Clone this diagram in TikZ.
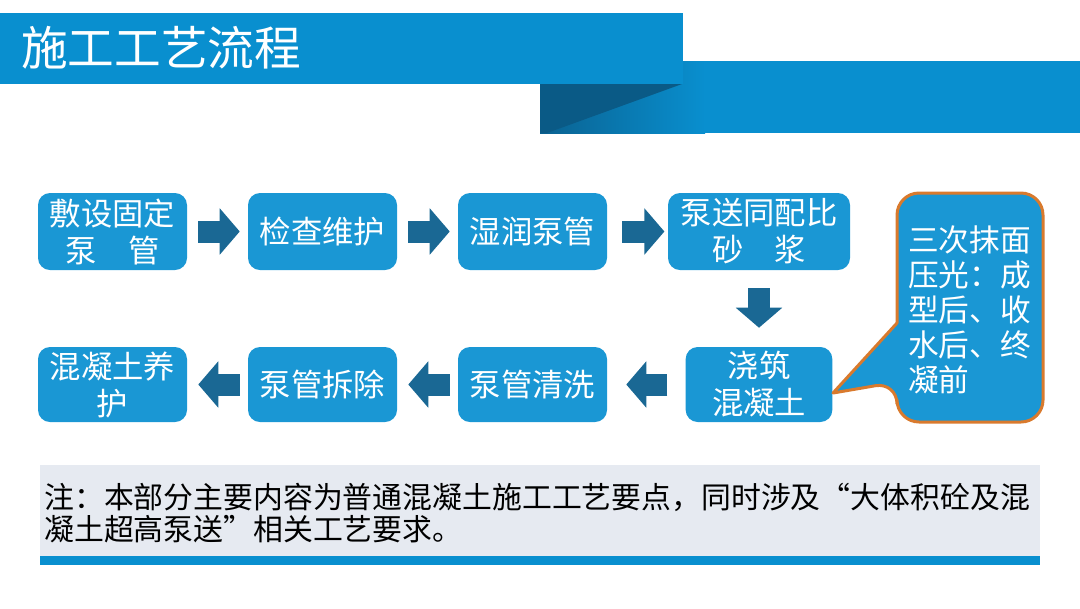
\documentclass[tikz,border=0pt]{standalone}
\usepackage{fontspec}
\newfontfamily\cjk{Noto Sans CJK SC}
\usepackage{xcolor}
\usetikzlibrary{arrows.meta}

\definecolor{bandblue}{RGB}{9,143,207}
\definecolor{boxblue}{RGB}{26,151,212}
\definecolor{arrowblue}{RGB}{26,104,148}
\definecolor{folddark}{RGB}{10,90,134}
\definecolor{edgeorange}{RGB}{217,122,45}
\definecolor{notegrey}{RGB}{230,234,241}

\begin{document}
\begin{tikzpicture}[x=0.75pt,y=0.75pt,yscale=-1,xscale=1,
  stepbox/.style={fill=boxblue,rounded corners=9pt,minimum width=111.75pt,minimum height=57.75pt,
    inner sep=0pt,align=center,text=white,font=\cjk\fontsize{23.5}{27.75}\selectfont},
  flow/.style={arrowblue,line width=16.5pt,-{Triangle[width=34pt,length=15pt]}}]
\useasboundingbox (0,0) rectangle (1080,608);

%Shape: Band [id:band2]
\fill[bandblue] (540,61) rectangle (1080,133);
\shade[left color=folddark!85!bandblue,right color=bandblue] (540,61) rectangle (705,133);
%Shape: Fold
\fill[folddark] (540,84) -- (682,84) -- (547,133) -- (540,133) -- cycle;
%Shape: Band [id:band1]
\fill[bandblue] (0,13) rectangle (683,84);
% Text Node
\node (title) [anchor=west,text=white,inner sep=0pt,font=\cjk\fontsize{35}{40}\selectfont] at (21,48) {施工工艺流程};

% Step Nodes
\node (lay) [stepbox] at (112.5,231.5) {敷设固定\\泵　管};
\node (check) [stepbox] at (322.5,231.5) {检查维护};
\node (wet) [stepbox] at (532.5,231.5) {湿润泵管};
\node (mortar) [stepbox,minimum width=136.5pt] at (759,231.5) {泵送同配比\\砂　浆};
\node (pour) [stepbox,minimum width=110pt,minimum height=56.25pt] at (759,384.5) {浇筑\\混凝土};
\node (clean) [stepbox,minimum height=56.25pt] at (532.5,384.5) {泵管清洗};
\node (remove) [stepbox,minimum height=56.25pt] at (322.5,384.5) {泵管拆除};
\node (cure) [stepbox,minimum height=56.25pt] at (112.5,384.5) {混凝土养\\护};

%Block Arrows
\draw[flow,shorten <=8.25pt,shorten >=6pt] (lay) -- (check);
\draw[flow,shorten <=8.25pt,shorten >=6pt] (check) -- (wet);
\draw[flow,shorten <=11.25pt,shorten >=2.5pt] (wet) -- (mortar);
\draw[flow,shorten <=13.5pt,shorten >=14.25pt] (mortar) -- (pour);
\draw[flow,shorten <=13.5pt,shorten >=14.25pt] (pour) -- (clean);
\draw[flow,shorten <=6pt,shorten >=8.25pt] (clean) -- (remove);
\draw[flow,shorten <=6pt,shorten >=8.25pt] (remove) -- (cure);

%Shape: Callout
\coordinate (tip) at (833,393);
\draw[fill=boxblue,draw=edgeorange,line width=2.25pt,line join=round]
  (897,300) [rounded corners=16.5pt] -- (897,193) -- (1043,193) -- (1043,422) -- (897,422) -- (897,382)
  [sharp corners] -- (tip) -- (897,323) -- cycle;
% Text Node
\node (finish) [text width=93pt,align=left,inner sep=0pt,text=white,font=\cjk\fontsize{23}{26.25}\selectfont] at (970,310)
  {三次抹面\\压光：成\\型后、收\\水后、终\\凝前};

%Shape: Note
\fill[notegrey] (40,465) rectangle (1040,556);
\fill[bandblue] (40,556) rectangle (1040,565);
% Text Node
\node (note) [anchor=west,align=left,inner sep=0pt,font=\cjk\fontsize{22.4}{24}\selectfont] at (44,513)
  {注：本部分主要内容为普通混凝土施工工艺要点，同时涉及“大体积砼及混\\凝土超高泵送”相关工艺要求。};

\end{tikzpicture}
\end{document}
